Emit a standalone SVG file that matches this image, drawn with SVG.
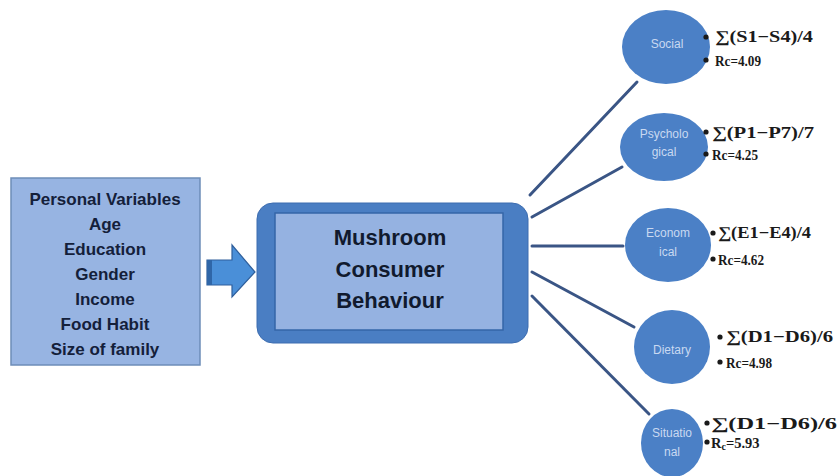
<svg xmlns="http://www.w3.org/2000/svg" width="838" height="476" viewBox="0 0 838 476">
<style>
.bg{fill:#ffffff}
.lbox{fill:#97b4e2;stroke:#6d8db8;stroke-width:1.5}
.ltxt{font-family:"Liberation Sans",Arial,sans-serif;font-weight:bold;font-size:17px;fill:#14203a;text-anchor:middle}
.mtxt{font-family:"Liberation Sans",Arial,sans-serif;font-weight:bold;font-size:22px;fill:#111a2e;text-anchor:middle}
.circ{fill:#4b80c6}
.ctxt{font-family:"Liberation Sans",Arial,sans-serif;font-size:12px;fill:#c9d9f1;text-anchor:middle}
.eq{font-family:"Liberation Serif","Times New Roman",serif;font-weight:bold;font-size:16px;fill:#1a1a1a}
.rc{font-family:"Liberation Serif","Times New Roman",serif;font-weight:bold;font-size:14.5px;fill:#1a1a1a}
.bul{fill:#1a1a1a}
.conn line{stroke:#3a5585;stroke-width:3;stroke-linecap:round}
</style>
<rect class="bg" x="0" y="0" width="838" height="476"/>

<g id="personal-variables">
  <rect class="lbox" x="11" y="178" width="189" height="187"/>
  <text class="ltxt" x="105" y="205">Personal Variables</text>
  <text class="ltxt" x="105" y="230">Age</text>
  <text class="ltxt" x="105" y="255">Education</text>
  <text class="ltxt" x="105" y="280">Gender</text>
  <text class="ltxt" x="105" y="305">Income</text>
  <text class="ltxt" x="105" y="330">Food Habit</text>
  <text class="ltxt" x="105" y="355">Size of family</text>
</g>

<g id="input-arrow">
  <polygon points="207,260 232,260 232,245 255,272 232,297 232,285 207,285" fill="#4a8fd8" stroke="#2f5f9c" stroke-width="1.2"/>
  <rect x="207" y="260" width="5" height="25" fill="#2f66a8"/>
</g>

<g id="mushroom-consumer-behaviour">
  <rect x="257" y="203" width="271" height="140" rx="16" ry="16" fill="#4a7ec3" stroke="#3d6db0" stroke-width="1"/>
  <rect x="275" y="213" width="228" height="117" fill="#95b2e1" stroke="#3566a8" stroke-width="1.5"/>
  <text class="mtxt" x="390" y="245">Mushroom</text>
  <text class="mtxt" x="390" y="277">Consumer</text>
  <text class="mtxt" x="390" y="308">Behaviour</text>
</g>

<g id="connectors" class="conn">
  <line x1="530" y1="195" x2="637" y2="82"/>
  <line x1="532" y1="217" x2="622" y2="167"/>
  <line x1="532" y1="246" x2="623" y2="246"/>
  <line x1="532" y1="272" x2="634" y2="327"/>
  <line x1="532" y1="296" x2="649" y2="414"/>
</g>

<g id="social">
  <ellipse class="circ" cx="666" cy="47" rx="44" ry="37"/>
  <text class="ctxt" x="667" y="48">Social</text>
  <circle class="bul" cx="706" cy="37" r="2.6"/>
  <text class="eq" x="715" y="42" textLength="98" lengthAdjust="spacingAndGlyphs">∑(S1−S4)/4</text>
  <circle class="bul" cx="706" cy="60" r="2.6"/>
  <text class="rc" x="715" y="66" textLength="46" lengthAdjust="spacingAndGlyphs">Rc=4.09</text>
</g>

<g id="psychological">
  <ellipse class="circ" cx="664" cy="147" rx="44" ry="34"/>
  <text class="ctxt" x="664" y="138">Psycholo</text>
  <text class="ctxt" x="664" y="156">gical</text>
  <circle class="bul" cx="706" cy="132" r="2.6"/>
  <text class="eq" x="712" y="138" textLength="102" lengthAdjust="spacingAndGlyphs">∑(P1−P7)/7</text>
  <circle class="bul" cx="706" cy="154" r="2.6"/>
  <text class="rc" x="712" y="160" textLength="46" lengthAdjust="spacingAndGlyphs">Rc=4.25</text>
</g>

<g id="economical">
  <ellipse class="circ" cx="668" cy="245" rx="43" ry="37"/>
  <text class="ctxt" x="668" y="237">Econom</text>
  <text class="ctxt" x="668" y="256">ical</text>
  <circle class="bul" cx="713" cy="233" r="2.6"/>
  <text class="eq" x="718" y="238" textLength="93" lengthAdjust="spacingAndGlyphs">∑(E1−E4)/4</text>
  <circle class="bul" cx="713" cy="259" r="2.6"/>
  <text class="rc" x="718" y="265" textLength="46" lengthAdjust="spacingAndGlyphs">Rc=4.62</text>
</g>

<g id="dietary">
  <ellipse class="circ" cx="672" cy="347" rx="38" ry="37"/>
  <text class="ctxt" x="672" y="354">Dietary</text>
  <circle class="bul" cx="720" cy="337" r="2.6"/>
  <text class="eq" x="726" y="342" textLength="107" lengthAdjust="spacingAndGlyphs">∑(D1−D6)/6</text>
  <circle class="bul" cx="720" cy="362" r="2.6"/>
  <text class="rc" x="726" y="368" textLength="46" lengthAdjust="spacingAndGlyphs">Rc=4.98</text>
</g>

<g id="situational">
  <ellipse class="circ" cx="672" cy="443" rx="31" ry="34"/>
  <text class="ctxt" x="672" y="437">Situatio</text>
  <text class="ctxt" x="672" y="456">nal</text>
  <circle class="bul" cx="707" cy="423" r="2.6"/>
  <text class="eq" x="711" y="429" textLength="126" lengthAdjust="spacingAndGlyphs">∑(D1−D6)/6</text>
  <circle class="bul" cx="707" cy="442" r="2.6"/>
  <text class="rc" x="711" y="448">R<tspan font-size="10" dy="2">c</tspan><tspan dy="-2">=5.93</tspan></text>
</g>
</svg>
